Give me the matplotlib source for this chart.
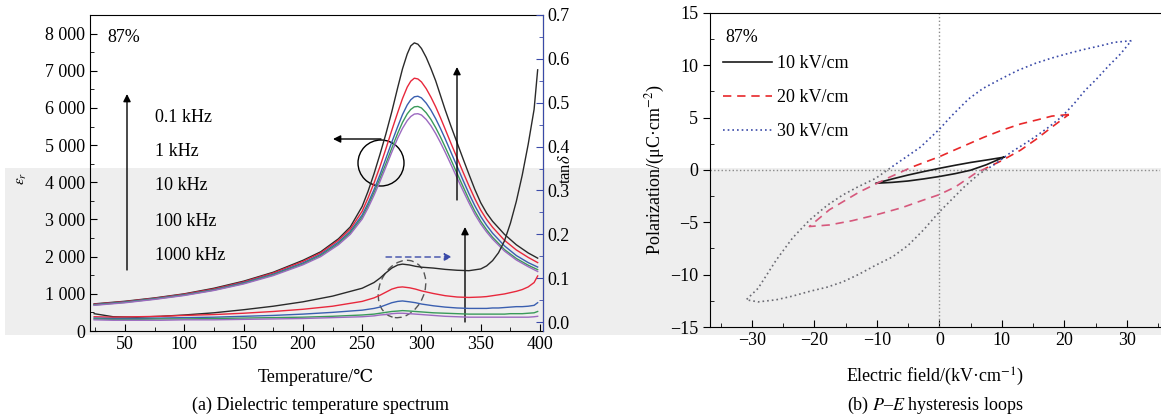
import matplotlib
matplotlib.use("Agg")
import matplotlib.pyplot as plt
from matplotlib.patches import Rectangle, Ellipse
from matplotlib.ticker import MultipleLocator, FuncFormatter
from matplotlib.lines import Line2D

plt.rcParams['font.family'] = ['Liberation Serif', 'DejaVu Serif']
plt.rcParams['mathtext.fontset'] = 'stix'
plt.rcParams['font.size'] = 13

# ---- (a) dielectric temperature spectrum ----
freq_labels = ["0.1 kHz", "1 kHz", "10 kHz", "100 kHz", "1000 kHz"]
freq_colors = ["#2a2a2a", "#e8283c", "#3a5fb0", "#3a9a5a", "#9c6ac0"]

t_eps = [24, 50, 75, 100, 125, 150, 175, 200, 215, 230, 240, 250, 255, 260, 265, 270, 275, 280, 284,
         288, 291, 294, 297, 300, 304, 308, 312, 316, 320, 325, 330, 335, 340, 345, 350, 355, 360,
         370, 380, 390, 398]
eps_01k = [730, 800, 890, 1000, 1150, 1340, 1580, 1900, 2130, 2480, 2800, 3350, 3760, 4230, 4750, 5300,
           5900, 6550, 7050, 7450, 7670, 7750, 7715, 7600, 7360, 7060, 6730, 6340, 5950, 5500, 5070,
           4640, 4220, 3810, 3450, 3170, 2950, 2600, 2320, 2100, 1960]
eps_1k = [720, 790, 880, 990, 1130, 1320, 1560, 1870, 2100, 2440, 2740, 3220, 3580, 3980, 4420, 4900,
          5400, 5880, 6250, 6560, 6720, 6800, 6780, 6700, 6520, 6290, 6030, 5740, 5430, 5040, 4660,
          4280, 3910, 3560, 3250, 3000, 2790, 2440, 2180, 1980, 1840]
eps_10k = [710, 780, 870, 975, 1110, 1300, 1530, 1830, 2060, 2390, 2680, 3120, 3440, 3800, 4200, 4640,
           5080, 5500, 5820, 6080, 6220, 6300, 6315, 6270, 6130, 5940, 5710, 5450, 5170, 4800, 4430,
           4060, 3700, 3370, 3080, 2840, 2630, 2290, 2030, 1840, 1720]
eps_100k = [700, 770, 860, 965, 1100, 1280, 1510, 1800, 2030, 2350, 2640, 3060, 3370, 3720, 4100, 4500,
            4920, 5320, 5610, 5840, 5960, 6030, 6040, 6000, 5870, 5690, 5470, 5220, 4950, 4600, 4240,
            3890, 3540, 3220, 2950, 2720, 2520, 2190, 1950, 1770, 1650]
eps_1000k = [690, 760, 850, 955, 1090, 1265, 1490, 1780, 2000, 2320, 2600, 3010, 3310, 3650, 4020, 4410,
             4810, 5190, 5450, 5660, 5770, 5835, 5845, 5810, 5690, 5520, 5310, 5070, 4810, 4470, 4120,
             3780, 3450, 3140, 2880, 2660, 2470, 2150, 1910, 1730, 1600]

t_tan = [24, 40, 60, 80, 100, 125, 150, 175, 200, 225, 250, 260, 265, 270, 275, 280, 284, 290, 295,
         300, 310, 320, 330, 340, 350, 355, 360, 365, 370, 375, 380, 385, 390, 395, 398]
tan_01k = [0.019, 0.012, 0.011, 0.013, 0.016, 0.021, 0.028, 0.036, 0.046, 0.059, 0.077, 0.090, 0.100,
           0.112, 0.123, 0.130, 0.132, 0.130, 0.127, 0.125, 0.123, 0.120, 0.118, 0.117, 0.121, 0.128,
           0.140, 0.158, 0.185, 0.225, 0.275, 0.335, 0.405, 0.485, 0.575]
tan_1k = [0.012, 0.011, 0.012, 0.013, 0.015, 0.017, 0.020, 0.024, 0.029, 0.036, 0.047, 0.055, 0.061,
          0.068, 0.075, 0.079, 0.080, 0.078, 0.075, 0.071, 0.065, 0.060, 0.057, 0.056, 0.057, 0.058,
          0.060, 0.062, 0.064, 0.067, 0.070, 0.074, 0.080, 0.090, 0.105]
tan_10k = [0.009, 0.008, 0.008, 0.009, 0.010, 0.011, 0.013, 0.015, 0.018, 0.022, 0.027, 0.031, 0.034,
           0.039, 0.044, 0.047, 0.048, 0.046, 0.044, 0.041, 0.037, 0.034, 0.032, 0.031, 0.031, 0.031,
           0.032, 0.032, 0.033, 0.034, 0.035, 0.035, 0.036, 0.038, 0.044]
tan_100k = [0.007, 0.006, 0.006, 0.007, 0.007, 0.008, 0.009, 0.010, 0.011, 0.013, 0.016, 0.018, 0.020,
            0.022, 0.024, 0.025, 0.026, 0.025, 0.024, 0.023, 0.021, 0.020, 0.019, 0.018, 0.018, 0.018,
            0.018, 0.018, 0.018, 0.019, 0.019, 0.019, 0.020, 0.021, 0.024]
tan_1000k = [0.005, 0.004, 0.004, 0.004, 0.005, 0.005, 0.006, 0.007, 0.008, 0.010, 0.012, 0.014, 0.016,
             0.017, 0.019, 0.020, 0.020, 0.019, 0.018, 0.017, 0.015, 0.013, 0.012, 0.011, 0.011, 0.011,
             0.011, 0.011, 0.011, 0.011, 0.011, 0.011, 0.011, 0.012, 0.013]

# ---- (b) P-E loops ----
loop_labels = ["10 kV/cm", "20 kV/cm", "30 kV/cm"]
e_10 = [10.3, 7.5, 5, 2.5, 0, -2.5, -5, -7.5, -10.2, -7.5, -5, -2.5, 0, 2.5, 5, 7.5, 10.3]
p_10 = [1.22, 0.95, 0.72, 0.45, 0.16, -0.15, -0.48, -0.85, -1.27, -1.18, -1.05, -0.85, -0.62, -0.35,
        -0.02, 0.5, 1.22]
e_20 = [20.7, 18, 16.4, 13, 10, 7, 4.7, 2, 0, -4.3, -8, -12.8, -17.6, -20.8,
        -17.6, -14, -10.2, -6, -2.7, 0, 2.6, 5.8, 10, 13, 15.4, 18, 20.7]
p_20 = [5.3, 5.15, 4.9, 4.4, 3.8, 3.1, 2.5, 1.8, 1.27, 0.3, -0.7, -2.1, -3.8, -5.4,
        -5.25, -4.85, -4.3, -3.6, -2.9, -2.35, -1.6, -0.3, 0.9, 1.9, 2.9, 4.1, 5.3]
e_30 = [30.7, 28, 26, 23, 20.7, 18, 15.4, 12.5, 10, 7, 4.7, 2, 0, -3, -5.9, -7, -10.2, -13, -15.5,
        -18, -20.8, -23.5, -26.1, -29, -30.9,
        -29, -26.1, -23.5, -20.8, -18, -15.5, -13, -10.2, -7.5, -5, -2.5, 0, 2, 4, 6.3, 9, 11.6,
        13.5, 15.4, 17.5, 19.6, 21.5, 23.3, 25, 27, 29, 30.7]
p_30 = [12.35, 12.2, 11.9, 11.5, 11.15, 10.7, 10.2, 9.5, 8.75, 7.8, 6.8, 5.2, 3.9, 2.2, 1.0, 0.55,
        -0.8, -1.6, -2.4, -3.4, -4.8, -6.5, -8.6, -11.3, -12.4,
        -12.6, -12.4, -12.05, -11.6, -11.2, -10.7, -10.0, -9.1, -8.3, -7.2, -5.7, -4.0, -2.8, -1.6,
        -0.4, 0.6, 1.75, 2.45, 3.2, 4.1, 5.1, 6.3, 7.6, 8.6, 9.9, 11.1, 12.35]

W, H = 1161, 419
fig = plt.figure(figsize=(W / 100, H / 100), dpi=100)

# scanned grey band behind the lower half
band = Rectangle((5 / W, 1 - 335 / H), 1 - 5 / W, (335 - 168) / H, transform=fig.transFigure,
                 facecolor="#eeeeee", edgecolor="none", zorder=-5)
fig.patches.append(band)

ax1 = fig.add_axes([90 / W, (H - 331) / H, 453 / W, 316 / H])
ax1.patch.set_alpha(0)
ax2 = ax1.twinx()
ax2.patch.set_alpha(0)

eps_sets = [eps_01k, eps_1k, eps_10k, eps_100k, eps_1000k]
tan_sets = [tan_01k, tan_1k, tan_10k, tan_100k, tan_1000k]
for eps, tn, c in zip(eps_sets, tan_sets, freq_colors):
    ax1.plot(t_eps, eps, color=c, lw=1.0)
    ax2.plot(t_tan, tn, color=c, lw=1.0)

ax1.set_xlim(20.5, 402.5)
ax1.set_ylim(0, 8500)
ax2.set_ylim(-0.0205, 0.7)
ax1.xaxis.set_major_locator(MultipleLocator(50))
ax1.xaxis.set_minor_locator(MultipleLocator(25))
ax1.yaxis.set_major_locator(MultipleLocator(1000))
ax1.yaxis.set_minor_locator(MultipleLocator(500))
ax1.yaxis.set_major_formatter(FuncFormatter(lambda v, p: f"{int(v):,}".replace(",", " ")))
ax2.yaxis.set_major_locator(MultipleLocator(0.1))
ax2.yaxis.set_minor_locator(MultipleLocator(0.05))
ax2.yaxis.set_major_formatter(FuncFormatter(lambda v, p: f"{v:.1f}"))
ax1.tick_params(which="both", direction="in", labelsize=13)
ax1.tick_params(which="major", length=5)
ax1.tick_params(which="minor", length=3)
ax1.tick_params(axis="x", top=False)
navy = "#3a4aa8"
ax2.spines["right"].set_color(navy)
ax2.tick_params(which="both", direction="in", colors=navy, labelcolor="black", labelsize=13)
ax2.tick_params(which="major", length=5)
ax2.tick_params(which="minor", length=3)
for sp in ["left", "top", "bottom"]:
    ax2.spines[sp].set_visible(False)


def pa(x, y):
    return ((x - 90) / 453, (331 - y) / 316)


ax1.text(*pa(107, 38), "87%", transform=ax1.transAxes, ha="left", va="center", fontsize=13)
for lab, yy in zip(freq_labels, [117, 152, 186, 221, 256]):
    ax1.text(*pa(155, yy), lab, transform=ax1.transAxes, ha="left", va="center", fontsize=13)

arrow_kw = dict(arrowstyle="-|>", color="black", lw=1.0, mutation_scale=11, shrinkA=0, shrinkB=0)
ax1.annotate("", xy=pa(127, 94), xytext=pa(127, 270), xycoords="axes fraction", arrowprops=arrow_kw)
ax1.annotate("", xy=pa(333, 139), xytext=pa(381, 139), xycoords="axes fraction", arrowprops=arrow_kw)
ax1.annotate("", xy=pa(457, 67), xytext=pa(457, 200), xycoords="axes fraction", arrowprops=arrow_kw)
ax1.annotate("", xy=pa(465, 227), xytext=pa(465, 322), xycoords="axes fraction", arrowprops=arrow_kw)
ax1.annotate("", xy=pa(452, 257), xytext=pa(386, 257), xycoords="axes fraction",
             arrowprops=dict(arrowstyle="-|>", color="#3a4aa8", lw=1.0, ls=(0, (4, 3)),
                             mutation_scale=11, shrinkA=0, shrinkB=0))
ax1.add_patch(Ellipse(pa(381, 163), 46 / 453, 46 / 316, transform=ax1.transAxes,
                      fill=False, ec="black", lw=1.0))
ax1.add_patch(Ellipse(pa(402, 289), 46 / 453, 58 / 316, angle=-10, transform=ax1.transAxes,
                      fill=False, ec="#555555", lw=1.0, ls=(0, (5, 3))))

fig.text(22 / W, 1 - 178 / H, r"$\varepsilon_r$", rotation=90, ha="center", va="center", fontsize=11)
fig.text(566 / W, 1 - 169 / H, r"tan$\delta$", rotation=90, ha="center", va="center", fontsize=12)
fig.text(316 / W, 1 - 377 / H, "Temperature/℃", ha="center", va="center", fontsize=13)
fig.text(320 / W, 1 - 405 / H, "(a) Dielectric temperature spectrum", ha="center", va="center", fontsize=13)

# ---- right panel ----
ax3 = fig.add_axes([710 / W, (H - 327) / H, 450 / W, 314 / H])
ax3.patch.set_alpha(0)
ax3.axhline(0, color="#8a8a8a", ls=":", lw=1.0)
ax3.axvline(0, color="#8a8a8a", ls=":", lw=1.0)

band_y = (327 - 168) / 314
loops = [(e_10, p_10, "-", "#1a1a1a", "#1a1a1a"),
         (e_20, p_20, (0, (5, 3.5)), "#e8282a", "#d6587c"),
         (e_30, p_30, (0, (1, 1.8)), "#3a4aa8", "#6a6a72")]
handles = []
for (ex, py, ls, c_top, c_low), lab in zip(loops, loop_labels):
    top, = ax3.plot(ex, py, color=c_top, ls=ls, lw=1.2)
    top.set_clip_path(Rectangle((0, band_y), 1, 1 - band_y, transform=ax3.transAxes))
    low, = ax3.plot(ex, py, color=c_low, ls=ls, lw=1.2)
    low.set_clip_path(Rectangle((0, 0), 1, band_y, transform=ax3.transAxes))
    handles.append(Line2D([], [], color=c_top, ls=ls, lw=1.2, label=lab))

ax3.set_xlim(-36.7, 35.3)
ax3.set_ylim(-15, 15)
ax3.xaxis.set_major_locator(MultipleLocator(10))
ax3.xaxis.set_minor_locator(MultipleLocator(5))
ax3.yaxis.set_major_locator(MultipleLocator(5))
ax3.yaxis.set_minor_locator(MultipleLocator(2.5))
ax3.tick_params(which="both", direction="in", labelsize=13)
ax3.tick_params(axis="y", which="major", direction="out")
ax3.tick_params(which="major", length=5)
ax3.tick_params(which="minor", length=3)
ax3.spines["right"].set_visible(False)

ax3.text((725 - 710) / 450, (327 - 38) / 314, "87%", transform=ax3.transAxes, ha="left", va="center",
         fontsize=13)
ax3.legend(handles=handles, loc="upper left", bbox_to_anchor=((723 - 710) / 450, (327 - 55) / 314),
           frameon=False, fontsize=13, handlelength=2.7, handletextpad=0.3, labelspacing=0.95,
           borderpad=0, borderaxespad=0)

fig.text(655 / W, 1 - 170 / H, r"Polarization/(μC·cm$^{-2}$)", rotation=90, ha="center", va="center",
         fontsize=13)
fig.text(935 / W, 1 - 377 / H, r"Electric field/(kV·cm$^{-1}$)", ha="center", va="center", fontsize=13)
fig.text(935 / W, 1 - 405 / H, r"(b) $P$–$E$ hysteresis loops", ha="center", va="center", fontsize=13)

fig.savefig("out.png", dpi=100)
plt.close(fig)
